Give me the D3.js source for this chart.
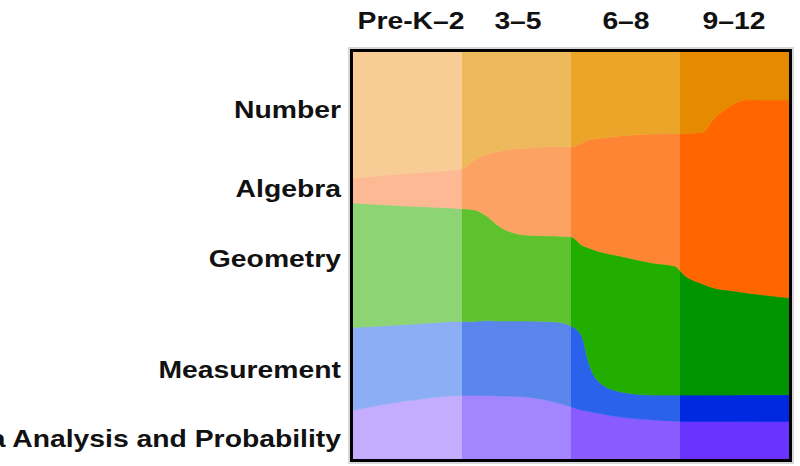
<!DOCTYPE html>
<html>
<head>
<meta charset="utf-8">
<script src="https://cdn.jsdelivr.net/npm/d3@7"></script>
<style>
  html, body { margin: 0; padding: 0; background: #fff; }
  svg { display: block; }
  text { font-family: "Liberation Sans", Arial, Helvetica, sans-serif; font-weight: bold; fill: #111; }
</style>
</head>
<body>
<svg id="chart" width="800" height="466"></svg>
<script>
// ---- data ----
const bands = ["Pre-K–2", "3–5", "6–8", "9–12"];
const topics = ["Number", "Algebra", "Geometry", "Measurement", "Data Analysis and Probability"];
// positions along the grade axis (in grade-band units, 0..4) at which shares were read
const samplePos = [0, 0.5, 1.0, 1.1, 1.21, 1.35, 1.6, 1.85, 2.0, 2.1, 2.16, 2.24, 2.45, 2.75, 2.95, 3.05, 3.21, 3.3, 3.43, 3.6, 4.0];
// share of curriculum emphasis (%) for each topic at each position
const number       = [31.0, 29.9, 28.7, 26.8, 25.3, 24.3, 23.6, 23.3, 23.3, 22.4, 21.6, 21.3, 20.6, 20.1, 20.0, 20.0, 19.7, 16.7, 13.8, 11.8, 11.8];
const algebra      = [ 6.1,  8.0,  9.8, 11.9, 14.7, 18.7, 21.4, 21.9, 22.1, 25.1, 26.5, 27.6, 29.5, 31.7, 32.6, 35.0, 37.3, 41.2, 44.7, 47.4, 48.6];
const geometry     = [30.6, 29.1, 27.7, 27.5, 26.0, 23.1, 21.1, 21.1, 21.9, 22.4, 28.0, 31.7, 33.3, 32.4, 31.7, 29.2, 27.3, 26.4, 25.8, 25.1, 23.8];
const measurement  = [20.3, 18.8, 18.2, 18.2, 18.4, 18.4, 18.7, 19.7, 19.9, 18.2, 12.2,  8.1,  6.2,  6.1,  6.4,  6.5,  6.5,  6.5,  6.5,  6.6,  6.6];
const dataAnalysis = [12.0, 14.3, 15.6, 15.6, 15.6, 15.5, 15.2, 14.0, 12.8, 12.0, 11.7, 11.3, 10.3,  9.6,  9.3,  9.2,  9.2,  9.2,  9.2,  9.2,  9.2];
// colours for each topic, one per grade band
const colNumber      = ["#f7cd95", "#edb95b", "#eba62a", "#e68b00"];
const colAlgebra     = ["#fdb894", "#fca263", "#fd8533", "#ff6600"];
const colGeometry    = ["#8cd474", "#5ec22e", "#22ae00", "#009400"];
const colMeasurement = ["#8caef5", "#5a86eb", "#2a62eb", "#0028e0"];
const colData        = ["#c4adff", "#a385ff", "#8a5cff", "#6a33ff"];

// ---- build table ----
const table = samplePos.map((p, i) => ({
  pos: p,
  "Number": number[i],
  "Algebra": algebra[i],
  "Geometry": geometry[i],
  "Measurement": measurement[i],
  "Data Analysis and Probability": dataAnalysis[i]
}));
const colours = {
  "Number": colNumber, "Algebra": colAlgebra, "Geometry": colGeometry,
  "Measurement": colMeasurement, "Data Analysis and Probability": colData
};

const svg = d3.select("#chart");
const pLeft = 353, pRight = 789, pTop = 52, pBottom = 459;

const x = d3.scaleLinear().domain([0, bands.length]).range([pLeft, pRight]);
const y = d3.scaleLinear().domain([0, 1]).range([pBottom, pTop]);

const stack = d3.stack()
  .keys(topics.slice().reverse())
  .offset(d3.stackOffsetExpand);
const series = stack(table);

const area = d3.area()
  .x(d => x(d.data.pos))
  .y0(d => y(d[0]))
  .y1(d => y(d[1]))
  .curve(d3.curveMonotoneX);

const defs = svg.append("defs");
bands.forEach((b, i) => {
  defs.append("clipPath").attr("id", "band" + i)
    .append("rect")
    .attr("x", x(i)).attr("y", pTop)
    .attr("width", x(i + 1) - x(i)).attr("height", pBottom - pTop);
});

// outer soft shadow
svg.append("rect")
  .attr("x", pLeft - 4).attr("y", pTop - 4)
  .attr("width", pRight - pLeft + 8).attr("height", pBottom - pTop + 8)
  .attr("fill", "none").attr("stroke", "#d8d8d8").attr("stroke-width", 2);

bands.forEach((b, i) => {
  const g = svg.append("g").attr("clip-path", `url(#band${i})`);
  g.selectAll("path").data(series).join("path")
    .attr("d", area)
    .attr("fill", s => colours[s.key][i])
    .attr("stroke", s => colours[s.key][i])
    .attr("stroke-width", 0.6);
});

// frame
svg.append("rect")
  .attr("x", pLeft - 1.5).attr("y", pTop - 1.5)
  .attr("width", pRight - pLeft + 3).attr("height", pBottom - pTop + 3)
  .attr("fill", "none").attr("stroke", "#000").attr("stroke-width", 3);

// column labels
const labelCenters = [411, 518, 626, 734];
svg.selectAll("text.band").data(bands).join("text")
  .attr("class", "band")
  .attr("text-anchor", "middle")
  .attr("font-size", 24)
  .attr("transform", (d, i) => `translate(${labelCenters[i]},29) scale(1.18,1)`)
  .text(d => d);

// row labels
const labelBaselines = [118, 197, 267, 378, 447];
svg.selectAll("text.topic").data(topics).join("text")
  .attr("class", "topic")
  .attr("text-anchor", "end")
  .attr("font-size", 24)
  .attr("transform", (d, i) => `translate(341,${labelBaselines[i]}) scale(1.18,1)`)
  .text(d => d);
</script>
</body>
</html>
